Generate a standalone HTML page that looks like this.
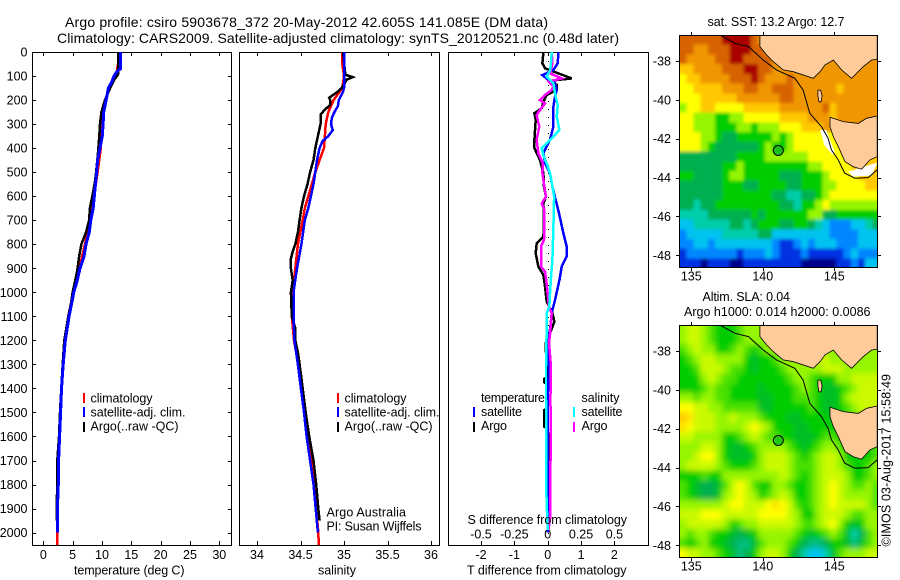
<!DOCTYPE html>
<html>
<head>
<meta charset="utf-8">
<title>Argo profile 5903678_372</title>
<style>
html,body{margin:0;padding:0;background:#fff;width:900px;height:580px;overflow:hidden}
svg{display:block}
text{font-family:"Liberation Sans",sans-serif;font-size:12.5px;fill:#000}
.title{font-size:14px}
</style>
</head>
<body>
<svg id="chart" xmlns="http://www.w3.org/2000/svg" width="900" height="580" viewBox="0 0 900 580">
<defs>
<clipPath id="clip-sst"><rect x="680" y="35" width="198" height="232"/></clipPath>
<clipPath id="clip-sla"><rect x="680" y="325" width="198" height="232"/></clipPath>
<filter id="blur-sst" filterUnits="userSpaceOnUse" x="650" y="5" width="250" height="290"><feGaussianBlur stdDeviation="1.6"/></filter>
<filter id="blur-sla" filterUnits="userSpaceOnUse" x="650" y="295" width="250" height="285"><feGaussianBlur stdDeviation="3"/></filter>
</defs>
<text class="title" x="65" y="27" textLength="483">Argo profile: csiro 5903678_372 20-May-2012 42.605S 141.085E (DM data)</text>
<text class="title" x="57" y="43" textLength="562">Climatology: CARS2009. Satellite-adjusted climatology: synTS_20120521.nc (0.48d later)</text>

<g id="panels"></g>
<g id="maps"></g>

<g>
<rect x="83" y="393" width="2" height="10" fill="#f00"/>
<rect x="83" y="407" width="2" height="10" fill="#00f"/>
<rect x="83" y="422" width="2" height="10" fill="#000"/>
<text x="90.5" y="402.5" textLength="62">climatology</text>
<text x="90.5" y="416.5" textLength="95">satellite-adj. clim.</text>
<text x="90.5" y="430.5" textLength="88">Argo(..raw -QC)</text>
</g>
<g>
<rect x="337" y="393" width="2" height="10" fill="#f00"/>
<rect x="337" y="407" width="2" height="10" fill="#00f"/>
<rect x="337" y="422" width="2" height="10" fill="#000"/>
<text x="344.5" y="402.5" textLength="62">climatology</text>
<text x="344.5" y="416.5" textLength="95">satellite-adj. clim.</text>
<text x="344.5" y="430.5" textLength="88">Argo(..raw -QC)</text>
</g>
<g>
<text x="481" y="402" textLength="64">temperature</text>
<text x="481" y="416" textLength="41">satellite</text>
<text x="481" y="430" textLength="26">Argo</text>
<rect x="473" y="407" width="2" height="10" fill="#00f"/>
<rect x="473" y="422" width="2" height="10" fill="#000"/>
<text x="581.5" y="402" textLength="38">salinity</text>
<text x="581.5" y="416" textLength="41">satellite</text>
<text x="581.5" y="430" textLength="26">Argo</text>
<rect x="573" y="407" width="2" height="10" fill="#0ff"/>
<rect x="573" y="422" width="2" height="10" fill="#f0f"/>
</g>
<text x="326.5" y="516.5" textLength="79.5">Argo Australia</text>
<text x="326.5" y="530.5" textLength="95">PI: Susan Wijffels</text>

<text x="74" y="574.5" textLength="110.5">temperature (deg C)</text>
<text x="318" y="574.5" textLength="38">salinity</text>
<text x="467.5" y="524" textLength="159.5">S difference from climatology</text>
<text x="467" y="574.5" textLength="159.5">T difference from climatology</text>

<text x="707.5" y="26" textLength="137">sat. SST: 13.2 Argo: 12.7</text>
<text x="702.5" y="301" textLength="87.5">Altim. SLA: 0.04</text>
<text x="684" y="316" textLength="186.5">Argo h1000: 0.014 h2000: 0.0086</text>
<text transform="translate(890.5,546.5) rotate(-90)" textLength="172.5">©IMOS 03-Aug-2017 15:58:49</text>
</svg>

<script>
/* ---------- profile data (depth in m) ---------- */
var depthTicks = [0,100,200,300,400,500,600,700,800,900,1000,1100,1200,1300,1400,1500,1600,1700,1800,1900,2000];
var tempTicks = [0,5,10,15,20,25,30];
var salTicks = [34,34.5,35,35.5,36];
var salTickLabels = ["34","34.5","35","35.5","36"];
var tDiffTicks = [-2,-1,0,1,2];
var sDiffTicks = [-0.5,-0.25,0,0.25,0.5];
var sDiffTickLabels = ["-0.5","-0.25","0","0.25","0.5"];

var tempArgoDepth = [0,90,100,110,150,200,250,300,350,400,450,500,550,600,650,700,750,800,850,900,950,1000,1050,1100,1200,1300,1400,1500,1600,1700,1800,1900,1950];
var tempArgo = [12.8,12.8,12.6,12.2,11.4,10.5,9.9,9.66,9.55,9.4,9.2,9.0,8.75,8.35,7.95,7.8,7.3,6.5,6.1,5.85,5.45,5.0,4.7,4.26,3.58,3.3,3.07,2.84,2.67,2.39,2.39,2.27,2.3];
var tempClimDepth = [0,100,150,200,250,300,400,500,600,700,800,900,1000,1100,1200,1300,1400,1500,1600,1700,1800,1900,2000,2052];
var tempClim = [13.07,12.4,11.1,10.7,10.2,9.95,9.8,9.26,8.64,8.07,7.1,6.14,5.1,4.26,3.64,3.35,3.07,2.9,2.73,2.56,2.5,2.39,2.39,2.39];
var tempSatDepth = [0,70,80,100,125,150,200,250,300,350,400,450,500,550,600,650,700,750,800,850,900,950,1000,1050,1100,1200,1300,1400,1500,1600,1700,1800,1900,2000];
var tempSat = [13.18,13.18,12.6,12.05,11.65,11.1,10.7,10.3,10.2,10.05,9.66,9.26,9.1,8.9,8.7,8.5,8.1,7.84,7.27,6.93,6.25,5.8,5.2,4.8,4.4,3.75,3.4,3.1,2.95,2.78,2.6,2.55,2.4,2.4];

var salArgoDepth = [0,80,95,105,115,130,150,165,190,200,220,240,260,300,350,400,450,500,550,600,650,700,750,800,830,860,900,950,1000,1100,1150,1200,1250,1300,1400,1500,1600,1700,1800,1900,1950];
var salArgo = [34.99,35.01,35.02,35.10,35.03,35.01,34.97,34.93,34.83,34.84,34.84,34.78,34.73,34.73,34.70,34.67,34.65,34.61,34.58,34.54,34.51,34.49,34.47,34.44,34.41,34.39,34.39,34.41,34.39,34.40,34.44,34.44,34.47,34.49,34.525,34.56,34.60,34.65,34.68,34.705,34.72];
var salClimDepth = [0,50,100,150,175,200,250,300,350,400,450,500,550,600,650,700,800,900,1000,1100,1200,1300,1400,1500,1600,1700,1800,1900,2000,2052];
var salClim = [34.98,34.98,35.0,34.98,34.93,34.88,34.82,34.79,34.78,34.77,34.72,34.67,34.63,34.59,34.55,34.525,34.47,34.44,34.41,34.40,34.425,34.475,34.51,34.55,34.59,34.63,34.655,34.68,34.705,34.71];
var salSatDepth = [0,100,150,165,200,225,250,275,300,325,350,370,400,450,500,550,600,650,700,800,900,1000,1100,1200,1300,1400,1500,1600,1700,1800,1900,2000];
var salSat = [35.0,35.0,35.0,34.99,34.94,34.93,34.89,34.86,34.85,34.87,34.82,34.755,34.72,34.69,34.67,34.65,34.62,34.59,34.55,34.51,34.46,34.42,34.42,34.43,34.47,34.505,34.54,34.57,34.61,34.65,34.675,34.70];

var tDiffSatDepth = [0,47,75,96,116,130,158,186,227,310,366,420,463,505,560,615,671,755,810,850,893,950,1032,1087,1143,1212,1300,1448,1700,2000];
var tDiffSat = [0.32,0.30,0.17,-0.16,0.02,0.22,0.27,0.22,0.17,0.17,0.07,-0.13,-0.08,0.07,0.14,0.24,0.34,0.47,0.57,0.57,0.42,0.35,0.22,0.12,0.08,0,0.04,0,0,0];
var tDiffArgoDepth = [0,47,68,89,110,119,137,158,179,207,234,255,283,366,400,450,505,560,602,630,700,769,796,838,893,928,976,1039,1087,1122,1170,1212,1300,1355,1360,1375,1380,1485,1490,1560,1565,1600,1950];
var tDiffArgo = [-0.13,-0.16,-0.08,0.32,0.72,0.12,0.27,0.27,-0.03,-0.13,-0.18,-0.40,-0.36,-0.40,-0.40,-0.23,-0.13,-0.11,-0.05,-0.13,-0.11,-0.13,-0.33,-0.36,-0.28,-0.13,-0.08,-0.03,0.14,0.2,0.07,-0.06,-0.04,-0.04,-0.1,-0.1,-0.04,-0.04,-0.1,-0.1,-0.03,0.04,0.04];
var sDiffSatDepth = [0,47,75,103,130,172,221,269,325,359,401,429,463,505,560,602,727,865,949,1060,1087,1171,1309,1448,1587,1795,1989];
var sDiffSat = [0.03,0.025,0.018,-0.008,0.043,0.055,0.075,0.068,0.088,0.03,-0.045,-0.033,-0.008,0.018,0.035,0.048,0.043,0.035,0.023,0.012,-0.008,-0.008,-0.013,-0.013,-0.013,-0.013,0];
var sDiffArgoDepth = [0,47,89,110,123,144,158,179,200,214,241,262,311,366,422,463,505,560,602,630,657,727,782,810,893,914,963,1060,1087,1171,1212,1309,1448,1587,1725,1933,1989];
var sDiffArgo = [0.03,0.035,0.018,0.105,0.005,0.043,0.03,-0.02,-0.058,-0.02,-0.058,-0.083,-0.063,-0.083,-0.07,-0.037,-0.04,-0.025,-0.013,-0.045,-0.025,-0.025,-0.028,-0.05,-0.05,-0.02,-0.008,0.01,0.03,0.018,0.01,0.025,0.02,0.025,0.02,0.02,0.005];

/* ---------- map data (colour-scale levels on a 0.5 degree grid) ---------- */
var mapLonTicks = [135,140,145];
var mapLatTicks = [-38,-40,-42,-44,-46,-48];
var argoLon = 141.085;
var argoLat = -42.605;
var sstLevels = [
[11,11,11,11,11,11,12,12,12,12,11,10,10,10,10,10,10,10,10,10,10,10,10,10,10,10,10,10],
[11,11,10,10,11,11,11,12,12,12,11,11,10,10,10,10,10,10,10,10,10,10,10,10,10,10,10,10],
[11,10,10,10,10,11,11,12,12,11,11,11,11,10,10,10,10,10,10,10,10,10,10,10,10,10,10,10],
[9,9,10,10,10,10,11,11,11,12,12,11,11,10,10,10,10,10,10,10,10,10,10,10,10,10,10,10],
[8,9,9,10,10,10,10,11,11,11,12,11,10,10,10,11,10,10,10,10,10,10,10,10,10,10,10,10],
[8,8,9,9,9,9,10,10,10,11,11,10,10,11,11,11,10,10,10,10,10,10,9,10,10,10,10,10],
[8,8,8,9,9,9,9,9,10,10,10,10,10,10,11,11,10,10,10,10,10,10,10,10,10,10,10,10],
[7,8,8,9,9,8,8,8,8,9,9,9,9,9,10,10,10,10,10,10,11,9,10,10,10,10,10,10],
[8,8,7,7,7,6,6,7,7,8,8,8,8,8,9,9,9,9,10,10,10,9,10,10,10,10,10,10],
[8,8,7,7,7,6,6,6,7,7,6,7,7,7,8,8,8,9,9,9,10,10,10,10,10,10,10,10],
[8,8,8,7,7,6,5,5,6,6,6,6,6,7,6,7,8,8,8,8,8,8,8,9,9,9,9,9],
[8,8,8,7,6,5,5,5,5,5,5,6,7,6,6,7,8,8,8,8,8,8,8,9,9,9,9,9],
[5,5,5,5,5,5,5,5,6,6,6,6,7,7,7,7,7,7,8,8,8,8,8,8,9,9,9,9],
[5,5,5,5,5,5,6,6,7,6,6,6,6,6,6,6,6,6,7,7,8,8,8,8,9,9,9,9],
[6,6,5,5,5,5,6,7,7,6,6,6,6,6,5,5,5,6,6,6,7,8,8,8,8,9,9,9],
[5,5,5,5,5,5,6,6,6,5,5,6,6,6,6,5,5,6,6,6,7,7,8,8,8,8,9,9],
[5,5,5,5,5,5,6,6,6,6,6,6,6,5,5,4,4,5,5,6,7,8,8,8,8,8,8,8],
[5,5,4,5,5,6,6,6,6,6,6,6,6,6,5,5,4,6,6,7,8,7,7,7,7,7,7,7],
[4,4,4,4,5,5,5,5,5,5,6,5,6,6,6,6,6,6,7,7,5,5,6,6,6,6,6,6],
[3,3,4,4,4,4,4,5,5,4,5,6,6,6,5,5,6,6,5,4,3,2,2,2,3,3,4,5],
[2,3,3,3,3,3,4,4,4,4,4,5,5,3,3,3,3,3,3,3,3,2,2,2,2,3,3,3],
[2,2,3,3,2,3,3,3,3,3,3,3,3,2,1,1,2,3,2,3,3,3,2,2,2,3,3,3],
[1,2,2,2,2,2,2,2,1,2,2,2,3,2,1,1,1,2,1,1,1,1,1,2,3,2,2,2],
[1,1,1,0,1,1,1,0,0,1,1,1,1,1,1,1,1,0,0,0,0,0,1,1,2,1,3,3]
];
var slaLevels = [
[7,7.5,7.5,7,6.5,6,6,6,6.5,7,7,7,7,7,7,7,7,7,7,7,7,7,7,7,7,7,7,7],
[7,7.5,7.5,7,6.5,6,6,6,6.5,7,7,7,7,7,7,7,7,7,7,7,7,7,7,7,7,7,7,7],
[6.5,7,7.5,7,7,6,6,6.5,7,6.5,6,6.5,7,7,7,7.5,7.5,7.5,7,7,7,7,7,7,7,7,7,7],
[6,6.5,7,7.5,7.5,7,7,7,7,6,5.5,6,6,6.5,7,7,7,7.5,7.5,7.5,7.5,7,7,7,7,7,7,7],
[6,6,6.5,7.5,7.5,7.5,7,6.5,6.5,6,5.5,6,6,6,6.5,7,7,7,7,7,7.5,7.5,7.5,7,7,7,7,7],
[6,6,6,7,7.5,7,6.5,6.5,6,6,6,6,6,6,6,6.5,7,7,6.5,6,6,6,7,7,7.5,7.5,7.5,7.5],
[6,6,6,6.5,7,6.5,6.5,6,6,6,6,5.5,6,6,6,6,6.5,7,6.5,6,5.5,5.5,6,6.5,7,7.5,7.5,7.5],
[7,7,6.5,7,7,6.5,6.5,6,6,6,6,5.5,5.5,6,6,6,6.5,6.5,6.5,6,5.5,5.5,6,7,7.5,7.5,7.5,7.5],
[8,8,7.5,7.5,7,7,6.5,6.5,6.5,6.5,6.5,5.5,5.5,6,6,6,6,6,6.5,6,5.5,5.5,6,6.5,7,7.5,7.5,7.5],
[9,8.5,7.5,7.5,7.5,7,7,7.5,7,7,7,6.5,6,6,6,5.5,5.5,6,6,6,6,5.5,5.5,6,6.5,7,7,7],
[8.5,8,7.5,7.5,7.5,7,7,7,7,7.5,8,7.5,7,6,6,6,5.5,5.5,6,6,6,6,5.5,6,6.5,7,7,7],
[7.5,7.5,7,7,7,7,6,6,6.5,7,7.5,7,6.5,6.5,6,6,5.5,5.5,5.5,6,6.5,6.5,6,5.5,6,7,7,7],
[7,7,7,7.5,7.5,7,6,5.5,5.5,6,6.5,7,7,7,7,6.5,6,5.5,6,6.5,7,7,6.5,6,5.5,5.5,6,6.5],
[7,7,7.5,8,8,7,6,5.5,5.5,5.5,6,7,7.5,7.5,7.5,7,6.5,6,6.5,7,7.5,7.5,7,6,6,6,6,6.5],
[7,7.5,7.5,7.5,7.5,7,6.5,6,6,6,6.5,7,7.5,7.5,7.5,7,6.5,6.5,6.5,7,7.5,7.5,7,6.5,6,6,6.5,7],
[6,6,6,6.5,6,6,7,7,7,7,7,7,7,7,7.5,7,6.5,6,6.5,7,7.5,7.5,7.5,7,6,6,6.5,7],
[6.5,6,5.5,5,5,5.5,6.5,7.5,8,7.5,6.5,6,6,7,7,6.5,6,6,6.5,7,7.5,8,7.5,7,6.5,6.5,7,6.5],
[6.5,6,5.5,5,5,5.5,7,7.5,8,7.5,7,6,6.5,7,7.5,7,6,6,6.5,7,7.5,8,7.5,7,7,7,7,6.5],
[7,7,7,7,7,7,7.5,8,8,7.5,7.5,7.5,8,8.5,8,7.5,6.5,6,6.5,7,7.5,8,7.5,7.5,7.5,7.5,7,6.5],
[7.5,7.5,7.5,8,8,8,7.5,7.5,7.5,7.5,7.5,8,8,8,8,7.5,7,6,6,7,7.5,7.5,7.5,7,6.5,6.5,7,7],
[7,7.5,7.5,7.5,7.5,7.5,7,6,6.5,7,7,7.5,7.5,7.5,7.5,7.5,7,6.5,6.5,7,7.5,8,7,6,5.5,6,7,7],
[7,6.5,7,7,6.5,6,6,5.5,5,5.5,6,7,7,7,7,7,6.5,6,5.5,6,6.5,7,6.5,5.5,4,5,6.5,7],
[6.5,6,6.5,7,6,6,5.5,5,4.5,4.5,5.5,6.5,7,7,7,6.5,6,5,4.5,4.5,5,6,6,5.5,4.5,5.5,6.5,7],
[8,7.5,7.5,7,7,6.5,6,5.5,4.5,5,6,7,7.5,7.5,7,6,5,4,3,3,4,5.5,6.5,7,7,7,7.5,7.5]
];
var colourStops = [[0,0,140],[0,50,225],[0,135,255],[0,195,240],[0,205,170],[0,175,80],[0,205,0],[150,245,0],[255,255,0],[255,200,0],[240,150,0],[215,100,0],[170,0,0]];

var victoriaLon = [139.80,139.80,140.27,140.73,141.43,142.13,143.53,144.0,144.35,144.93,145.51,146.21,147.03,147.61,148,148];
var victoriaLat = [-36.66,-37.26,-37.69,-38.03,-38.46,-38.55,-38.89,-38.55,-38.2,-37.95,-38.46,-38.89,-38.29,-37.95,-37.91,-36.66];
var tasmaniaLon = [144.70,145.63,146.68,147.26,148,148,147.49,146.91,146.33,145.75,145.28,144.93,144.70];
var tasmaniaLat = [-40.90,-41.12,-41.21,-40.95,-40.83,-42.92,-43.09,-43.57,-43.44,-43.18,-42.41,-41.89,-41.38];
var kingLon = [143.85,144.05,144.15,144.08,143.92,143.85];
var kingLat = [-39.50,-39.50,-39.80,-40.10,-40.10,-39.80];
var contourLon = [137.0,138.05,139.0,140.03,140.96,142.24,142.82,143.29,144.10,144.56,144.80,145.27,145.73,146.44,147.37,148];
var contourLat = [-36.66,-37.09,-37.26,-37.95,-38.46,-38.89,-39.49,-40.69,-41.37,-41.97,-42.57,-43.09,-43.77,-44.03,-44.0,-43.6];
var sstGapWestLon = [144.00,144.44,145.02,144.90,144.30];
var sstGapWestLat = [-41.55,-41.55,-42.67,-42.84,-42.33];
var sstGapSouthLon = [145.98,147.84,148,147.6,146.3];
var sstGapSouthLat = [-43.69,-43.26,-43.26,-43.9,-43.95];

/* ---------- helpers ---------- */
var NS = 'http://www.w3.org/2000/svg';
var panelsG = document.getElementById('panels');
var mapsG = document.getElementById('maps');
function make(parent, tag, attrs, txt) {
  var el = document.createElementNS(NS, tag);
  for (var k in attrs) { el.setAttribute(k, attrs[k]); }
  if (txt !== undefined) { el.textContent = txt; }
  parent.appendChild(el);
  return el;
}
function depthY(d) { return 52 + d * 0.2403; }
function tempX(v) { return 43.3 + v * 5.867; }
function salX(v) { return 257 + (v - 34) * 87; }
function tDiffX(v) { return 547.7 + v * 33.35; }
function sDiffX(v) { return 547.7 + v * 133.4; }
function pts(xf, values, depths) {
  return values.map(function (v, i) { return xf(v).toFixed(1) + ',' + depthY(depths[i]).toFixed(1); }).join(' ');
}
function drawProfile(parent, name, xf, values, depths, colour, width) {
  var el = make(parent, 'polyline', { points: pts(xf, values, depths), fill: 'none', stroke: colour, 'stroke-width': width, 'stroke-linejoin': 'miter', 'shape-rendering': 'crispEdges' });
  
  
}
function drawFrame(parent, name, x, y, w, h) {
  var el = make(parent, 'rect', { x: x + 0.5, y: y + 0.5, width: w, height: h, fill: 'none', stroke: '#000', 'stroke-width': 1, 'shape-rendering': 'crispEdges' });
  
  
}
function drawTick(parent, name, x1, y1, x2, y2) {
  var el = make(parent, 'line', { x1: x1, y1: y1, x2: x2, y2: y2, stroke: '#000', 'stroke-width': 1, 'shape-rendering': 'crispEdges' });
  
  
}
function drawLabel(parent, name, x, y, anchor, str) {
  var el = make(parent, 'text', { x: x, y: y, 'text-anchor': anchor }, str);
  
  
}
function cell(v) { return Math.round(v) + 0.5; }

/* ---------- temperature panel ---------- */
drawFrame(panelsG, 'temperature-panel-frame', 32, 52, 199, 493);
depthTicks.forEach(function (d) {
  var y = cell(depthY(d));
  drawTick(panelsG, 'depth-tick-left', 32, y, 36, y);
  drawTick(panelsG, 'depth-tick-right', 228, y, 232, y);
  drawLabel(panelsG, 'depth-tick-label', 27.5, depthY(d) + 4.5, 'end', String(d));
});
tempTicks.forEach(function (t) {
  var x = cell(tempX(t));
  drawTick(panelsG, 'temperature-tick-top', x, 52, x, 56);
  drawTick(panelsG, 'temperature-tick-bottom', x, 541, x, 545);
  drawLabel(panelsG, 'temperature-tick-label', tempX(t), 559, 'middle', String(t));
});
drawProfile(panelsG, 'temperature-climatology-line', tempX, tempClim, tempClimDepth, '#f00', 2.5);
drawProfile(panelsG, 'temperature-argo-line', tempX, tempArgo, tempArgoDepth, '#000', 2.5);
drawProfile(panelsG, 'temperature-satellite-line', tempX, tempSat, tempSatDepth, '#00f', 3);

/* ---------- salinity panel ---------- */
drawFrame(panelsG, 'salinity-panel-frame', 239, 52, 200, 493);
salTicks.forEach(function (s, i) {
  var x = cell(salX(s));
  drawTick(panelsG, 'salinity-tick-top', x, 52, x, 56);
  drawTick(panelsG, 'salinity-tick-bottom', x, 541, x, 545);
  drawLabel(panelsG, 'salinity-tick-label', salX(s), 559, 'middle', salTickLabels[i]);
});
drawProfile(panelsG, 'salinity-climatology-line', salX, salClim, salClimDepth, '#f00', 2.5);
drawProfile(panelsG, 'salinity-argo-line', salX, salArgo, salArgoDepth, '#000', 2.5);
drawProfile(panelsG, 'salinity-satellite-line', salX, salSat, salSatDepth, '#00f', 2.5);

/* ---------- difference panel ---------- */
drawFrame(panelsG, 'difference-panel-frame', 448, 52, 200, 493);
tDiffTicks.forEach(function (t) {
  var x = cell(tDiffX(t));
  drawTick(panelsG, 't-difference-tick-top', x, 52, x, 56);
  drawTick(panelsG, 't-difference-tick-bottom', x, 541, x, 545);
  drawLabel(panelsG, 't-difference-tick-label', tDiffX(t), 559, 'middle', String(t));
});
sDiffTicks.forEach(function (s, i) {
  drawLabel(panelsG, 's-difference-tick-label', sDiffX(s), 538.5, 'middle', sDiffTickLabels[i]);
});
var zeroLine = make(panelsG, 'line', { x1: cell(tDiffX(0)), y1: 53, x2: cell(tDiffX(0)), y2: 544, stroke: '#000', 'stroke-width': 1, 'stroke-dasharray': '1 7', 'shape-rendering': 'crispEdges' });


drawProfile(panelsG, 't-difference-argo-line', tDiffX, tDiffArgo, tDiffArgoDepth, '#000', 2.5);
drawProfile(panelsG, 't-difference-satellite-line', tDiffX, tDiffSat, tDiffSatDepth, '#00f', 2.5);
drawProfile(panelsG, 's-difference-argo-line', sDiffX, sDiffArgo, sDiffArgoDepth, '#f0f', 2.5);
drawProfile(panelsG, 's-difference-satellite-line', sDiffX, sDiffSat, sDiffSatDepth, '#0ff', 2.5);

/* ---------- maps ---------- */
function levelColour(v) {
  var lo = Math.max(0, Math.min(colourStops.length - 1, Math.floor(v)));
  var hi = Math.min(colourStops.length - 1, lo + 1);
  var f = v - lo;
  var c = colourStops[lo].map(function (a, i) { return Math.round(a + (colourStops[hi][i] - a) * f); });
  return 'rgb(' + c.join(',') + ')';
}
function drawMap(name, levels, top, clipId, blurId, markerFill, gaps) {
  var g = make(mapsG, 'g', {});
  
  
  var lat38 = top + 26;
  function lonX(lon) { return 691.3 + (lon - 135) * 14.3; }
  function latY(lat) { return lat38 + (-38 - lat) * 19.43; }
  function poly(lons, lats) {
    return lons.map(function (l, i) { return lonX(l).toFixed(1) + ',' + latY(lats[i]).toFixed(1); }).join(' ');
  }
  var clipped = make(g, 'g', { 'clip-path': 'url(#' + clipId + ')' });
  
  
  var cells = make(clipped, 'g', { filter: 'url(#' + blurId + ')' });
  
  
  var bleed = 14;
  levels.forEach(function (row, r) {
    row.forEach(function (v, c) {
      var x0 = lonX(134.16 + c * 0.5);
      var x1 = lonX(134.16 + (c + 1) * 0.5);
      var y0 = latY(-36.66 - r * 0.5);
      var y1 = latY(-36.66 - (r + 1) * 0.5);
      if (c === 0) { x0 -= bleed; }
      if (c === row.length - 1) { x1 += bleed; }
      if (r === 0) { y0 -= bleed; }
      if (r === levels.length - 1) { y1 += bleed; }
      var rect = make(cells, 'rect', { x: x0.toFixed(1), y: y0.toFixed(1), width: (x1 - x0 + 0.5).toFixed(1), height: (y1 - y0 + 0.5).toFixed(1), fill: levelColour(v), 'shape-rendering': 'crispEdges' });
      
      
    });
  });
  gaps.forEach(function (gap) {
    var el = make(clipped, 'polygon', { points: poly(gap[0], gap[1]), fill: '#fff' });
    
    
  });
  var lands = [[victoriaLon, victoriaLat, 'victoria-land'], [tasmaniaLon, tasmaniaLat, 'tasmania-land'], [kingLon, kingLat, 'king-island-land']];
  lands.forEach(function (l) {
    var el = make(clipped, 'polygon', { points: poly(l[0], l[1]), fill: '#ffcc99', stroke: '#000', 'stroke-width': 0.8 });
    
    
  });
  var contour = make(clipped, 'polyline', { points: poly(contourLon, contourLat), fill: 'none', stroke: '#000', 'stroke-width': 1 });
  
  
  var bottom = top + 232;
  mapLonTicks.forEach(function (lon) {
    var x = cell(lonX(lon));
    drawTick(g, 'longitude-tick-top', x, top - 3, x, top);
    drawTick(g, 'longitude-tick-bottom', x, bottom, x, bottom + 4);
    drawLabel(g, 'longitude-tick-label', lonX(lon), bottom + 13.5, 'middle', String(lon));
  });
  mapLatTicks.forEach(function (lat) {
    var y = cell(latY(lat));
    drawTick(g, 'latitude-tick-left', 676, y, 680, y);
    drawTick(g, 'latitude-tick-right', 878, y, 881, y);
    drawLabel(g, 'latitude-tick-label', 671, latY(lat) + 4.5, 'end', String(lat));
  });
  drawFrame(g, name + '-frame', 679, top, 198, 232);
  var marker = make(g, 'circle', { cx: lonX(argoLon).toFixed(1), cy: latY(argoLat).toFixed(1), r: 5, fill: markerFill, stroke: '#000', 'stroke-width': 1 });
  
  
}
drawMap('sst-map', sstLevels, 35, 'clip-sst', 'blur-sst', '#1cbf1c', [[sstGapWestLon, sstGapWestLat], [sstGapSouthLon, sstGapSouthLat]]);
drawMap('sla-map', slaLevels, 325, 'clip-sla', 'blur-sla', '#22cc11', []);
</script>
</body>
</html>
